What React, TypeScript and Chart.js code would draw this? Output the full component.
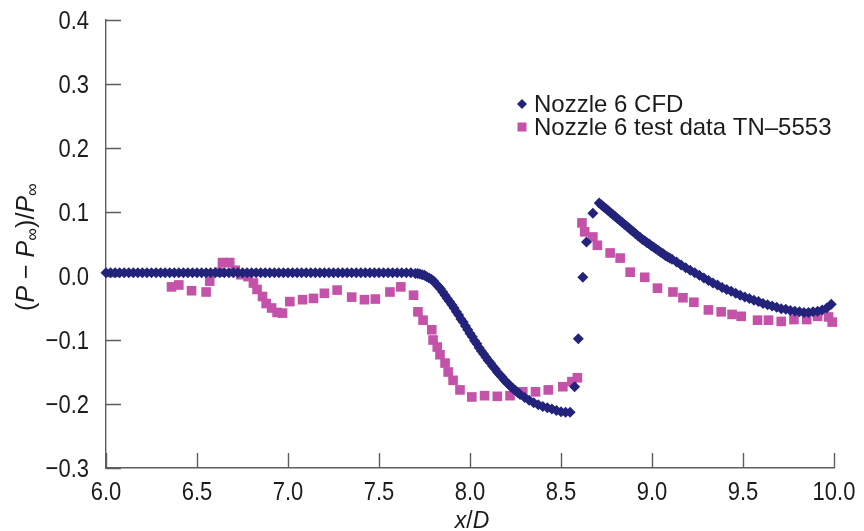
import React, { useEffect, useRef } from "react";
import { Chart, registerables } from "chart.js";

Chart.register(...registerables);

// ---------- data ----------
const seriesNames = ["Nozzle 6 CFD", "Nozzle 6 test data TN\u20135553"];

const xTickValues = [6.0, 6.5, 7.0, 7.5, 8.0, 8.5, 9.0, 9.5, 10.0];
const yTickValues = [-0.3, -0.2, -0.1, 0.0, 0.1, 0.2, 0.3, 0.4];

// CFD, upstream plateau
const cfdPlateauX = [
  6.000, 6.025, 6.050, 6.075, 6.100, 6.125, 6.150, 6.175, 6.200, 6.225, 6.250, 6.275,
  6.300, 6.325, 6.350, 6.375, 6.400, 6.425, 6.450, 6.475, 6.500, 6.525, 6.550, 6.575,
  6.600, 6.625, 6.650, 6.675, 6.700, 6.725, 6.750, 6.775, 6.800, 6.825, 6.850, 6.875,
  6.900, 6.925, 6.950, 6.975, 7.000, 7.025, 7.050, 7.075, 7.100, 7.125, 7.150, 7.175,
  7.200, 7.225, 7.250, 7.275, 7.300, 7.325, 7.350, 7.375, 7.400, 7.425, 7.450, 7.475,
  7.500, 7.525, 7.550, 7.575, 7.600, 7.625, 7.650, 7.675,
];
const cfdPlateauY = [
  0.005, 0.005, 0.005, 0.005, 0.005, 0.005, 0.005, 0.005, 0.005, 0.005, 0.005, 0.005,
  0.005, 0.005, 0.005, 0.005, 0.005, 0.005, 0.005, 0.005, 0.005, 0.005, 0.005, 0.005,
  0.005, 0.005, 0.005, 0.005, 0.005, 0.005, 0.005, 0.005, 0.005, 0.005, 0.005, 0.005,
  0.005, 0.005, 0.005, 0.005, 0.005, 0.005, 0.005, 0.005, 0.005, 0.005, 0.005, 0.005,
  0.005, 0.005, 0.005, 0.005, 0.005, 0.005, 0.005, 0.005, 0.005, 0.005, 0.005, 0.005,
  0.005, 0.005, 0.005, 0.005, 0.005, 0.005, 0.005, 0.005,
];

// CFD, expansion (pressure drop)
const cfdDropX = [
  7.7000, 7.7125, 7.7250, 7.7375, 7.7500, 7.7625, 7.7750, 7.7875, 7.8000, 7.8125, 7.8250,
  7.8375, 7.8500, 7.8625, 7.8750, 7.8875, 7.9000, 7.9125, 7.9250, 7.9375, 7.9500, 7.9625,
  7.9750, 7.9875, 8.0000, 8.0125, 8.0250, 8.0375, 8.0500, 8.0625, 8.0750, 8.0875, 8.1000,
  8.1125, 8.1250, 8.1375, 8.1500, 8.1625, 8.1750, 8.1875, 8.2000, 8.2125, 8.2250, 8.2375,
  8.2500, 8.2625, 8.2750, 8.3000, 8.3250, 8.3500, 8.3750, 8.4000, 8.4250, 8.4500, 8.4750,
  8.5000, 8.5250, 8.5500,
];
const cfdDropY = [
  0.004, 0.004, 0.003, 0.002, 0.001, -0.001, -0.003, -0.005, -0.008, -0.012, -0.016,
  -0.020, -0.025, -0.030, -0.035, -0.040, -0.045, -0.050, -0.056, -0.061, -0.067, -0.072,
  -0.078, -0.084, -0.090, -0.095, -0.101, -0.106, -0.112, -0.117, -0.122, -0.127, -0.132,
  -0.136, -0.141, -0.145, -0.150, -0.154, -0.158, -0.162, -0.166, -0.169, -0.173, -0.176,
  -0.179, -0.182, -0.185, -0.190, -0.194, -0.198, -0.201, -0.204, -0.206, -0.208, -0.210,
  -0.212, -0.213, -0.213,
];

// CFD, shock jump
const cfdShockX = [8.575, 8.595, 8.620, 8.640, 8.675];
const cfdShockY = [-0.173, -0.098, -0.002, 0.053, 0.098];

// CFD, recovery downstream of the shock
const cfdAfterX = [
  8.7100, 8.7225, 8.7350, 8.7475, 8.7600, 8.7725, 8.7850, 8.7975, 8.8100, 8.8225, 8.8350,
  8.8475, 8.8600, 8.8725, 8.8850, 8.8975, 8.9100, 8.9225, 8.9350, 8.9475, 8.9600, 8.9725,
  8.9850, 8.9975, 9.0100, 9.0225, 9.0350, 9.0475, 9.0600, 9.0725, 9.0850, 9.0975, 9.1100,
  9.135, 9.160, 9.185, 9.210, 9.235, 9.260, 9.285, 9.310, 9.335, 9.360, 9.385, 9.410,
  9.435, 9.460, 9.485, 9.510, 9.535, 9.560, 9.585, 9.610, 9.635, 9.660, 9.685, 9.710,
  9.735, 9.760, 9.785, 9.810, 9.835, 9.860, 9.885, 9.910, 9.935, 9.960, 9.985,
];
const cfdAfterY = [
  0.114, 0.111, 0.108, 0.105, 0.102, 0.099, 0.096, 0.093, 0.090, 0.087, 0.084,
  0.081, 0.078, 0.075, 0.072, 0.069, 0.066, 0.063, 0.060, 0.057, 0.055, 0.052,
  0.050, 0.047, 0.045, 0.042, 0.040, 0.037, 0.035, 0.032, 0.030, 0.028, 0.026,
  0.022, 0.017, 0.013, 0.009, 0.005, 0.001, -0.003, -0.007, -0.011, -0.014, -0.018, -0.021,
  -0.024, -0.027, -0.030, -0.033, -0.035, -0.038, -0.040, -0.043, -0.045, -0.047, -0.049, -0.051,
  -0.052, -0.054, -0.055, -0.056, -0.057, -0.057, -0.056, -0.055, -0.053, -0.050, -0.044,
];

const testX = [
  6.36, 6.40, 6.47, 6.55, 6.57, 6.62, 6.64, 6.68, 6.71, 6.74, 6.78, 6.81, 6.83, 6.86, 6.88,
  6.91, 6.94, 6.97, 7.01, 7.08, 7.14, 7.20, 7.27, 7.35, 7.42, 7.48, 7.56, 7.62, 7.69,
  7.714, 7.742, 7.79, 7.797, 7.82, 7.835, 7.863, 7.88, 7.907, 7.945, 8.01, 8.08, 8.15,
  8.22, 8.29, 8.36, 8.43, 8.51, 8.56, 8.59,
  8.615, 8.63, 8.675, 8.70, 8.77, 8.825, 8.88, 8.96, 9.03, 9.115, 9.17, 9.23, 9.31,
  9.38, 9.44, 9.49, 9.58, 9.64, 9.71, 9.78, 9.85, 9.91, 9.97, 9.99,
];

const testY = [
  -0.017, -0.014, -0.023, -0.025, -0.008, 0.006, 0.021, 0.021, 0.009, 0.002, -0.001, -0.011,
  -0.021, -0.032, -0.043, -0.050, -0.057, -0.058, -0.040, -0.037, -0.035, -0.027, -0.022,
  -0.033, -0.037, -0.036, -0.025, -0.017, -0.030,
  -0.056, -0.069, -0.084, -0.100, -0.111, -0.123, -0.136, -0.150, -0.163, -0.178, -0.189,
  -0.187, -0.188, -0.187, -0.181, -0.181, -0.178, -0.173, -0.165, -0.159,
  0.083, 0.069, 0.061, 0.048, 0.036, 0.028, 0.006, -0.002, -0.019, -0.025, -0.034, -0.041,
  -0.053, -0.056, -0.060, -0.063, -0.069, -0.069, -0.071, -0.068, -0.068, -0.063, -0.064,
  -0.072,
];

// ---------- styles ----------
const NAVY = "#23237b";
const PINK = "#c352a8";
const AXIS = "#5e5e5e";
const TEXT = "#1c1c1c";
const FONT = '"Liberation Sans", Arial, Helvetica, sans-serif';
const TICK_LEN = 15;
const TICK_FONT = 22;
const STRETCH = 1.2;

const fmt = (v: number) => {
  const s = Math.abs(v).toFixed(1);
  return v < -1e-9 ? "\u2212" + s : s;
};

const decorPlugin = {
  id: "decor",
  beforeDatasetsDraw(chart: any) {
    const { ctx, chartArea, scales } = chart;
    ctx.save();
    ctx.strokeStyle = AXIS;
    ctx.lineWidth = 1.4;
    ctx.beginPath();
    for (const v of yTickValues) {
      const py = Math.round(scales.y.getPixelForValue(v)) + 0.5;
      ctx.moveTo(chartArea.left, py);
      ctx.lineTo(chartArea.left + TICK_LEN, py);
    }
    for (const v of xTickValues) {
      const px = Math.round(scales.x.getPixelForValue(v)) + 0.5;
      ctx.moveTo(px, chartArea.bottom);
      ctx.lineTo(px, chartArea.bottom - TICK_LEN);
    }
    ctx.stroke();
    ctx.restore();
  },
  afterDraw(chart: any) {
    const { ctx, chartArea, scales } = chart;
    ctx.save();
    ctx.fillStyle = TEXT;

    // tick labels (slightly tall glyphs, as in the reference)
    ctx.save();
    ctx.scale(1, STRETCH);
    ctx.font = `${TICK_FONT}px ${FONT}`;
    ctx.textBaseline = "alphabetic";
    ctx.textAlign = "right";
    const capHalf = (0.716 * TICK_FONT * STRETCH) / 2;
    for (const v of yTickValues) {
      const py = scales.y.getPixelForValue(v);
      ctx.fillText(fmt(v), chartArea.left - 17, (py + capHalf) / STRETCH);
    }
    ctx.textAlign = "center";
    for (const v of xTickValues) {
      const px = scales.x.getPixelForValue(v);
      ctx.fillText(fmt(v), px, (chartArea.bottom + 32) / STRETCH);
    }
    ctx.restore();

    // legend
    const lx = 522;
    const ly1 = 104;
    const ly2 = 127;
    ctx.fillStyle = NAVY;
    ctx.beginPath();
    ctx.moveTo(lx, ly1 - 5);
    ctx.lineTo(lx + 5, ly1);
    ctx.lineTo(lx, ly1 + 5);
    ctx.lineTo(lx - 5, ly1);
    ctx.closePath();
    ctx.fill();
    ctx.fillStyle = PINK;
    ctx.fillRect(lx - 4.5, ly2 - 4.5, 9, 9);
    ctx.fillStyle = TEXT;
    ctx.font = `24px ${FONT}`;
    ctx.textBaseline = "alphabetic";
    ctx.textAlign = "left";
    ctx.fillText(seriesNames[0], 534, 112);
    ctx.fillText(seriesNames[1], 534, 135);

    // y axis title: (P − P∞)/P∞
    const segs = [
      { t: "(", it: false, sub: false },
      { t: "P", it: true, sub: false },
      { t: " \u2212 ", it: false, sub: false },
      { t: "P", it: true, sub: false },
      { t: "\u221E", it: false, sub: true },
      { t: ")/", it: false, sub: false },
      { t: "P", it: true, sub: false },
      { t: "\u221E", it: false, sub: true },
    ];
    const fontFor = (s: any) =>
      `${s.it ? "italic " : ""}${s.sub ? 18 : 25}px ${FONT}`;
    let total = 0;
    const widths = segs.map((s) => {
      ctx.font = fontFor(s);
      const w = ctx.measureText(s.t).width;
      total += w;
      return w;
    });
    ctx.save();
    ctx.translate(34, (chartArea.top + chartArea.bottom) / 2 + 3);
    ctx.rotate(-Math.PI / 2);
    let cx = -total / 2;
    segs.forEach((s, i) => {
      ctx.font = fontFor(s);
      ctx.fillText(s.t, cx, s.sub ? 4 : 0);
      cx += widths[i];
    });
    ctx.restore();

    // x axis title: x/D
    const xs = [
      { t: "x", it: true },
      { t: "/", it: false },
      { t: "D", it: true },
    ];
    let tw = 0;
    const xw = xs.map((s) => {
      ctx.font = `${s.it ? "italic " : ""}23px ${FONT}`;
      const w = ctx.measureText(s.t).width;
      tw += w;
      return w;
    });
    let px = (chartArea.left + chartArea.right) / 2 - tw / 2 + 2;
    xs.forEach((s, i) => {
      ctx.font = `${s.it ? "italic " : ""}23px ${FONT}`;
      ctx.fillText(s.t, px, 528);
      px += xw[i];
    });
    ctx.restore();
  },
};

export default function App() {
  const ref = useRef<HTMLCanvasElement>(null);
  useEffect(() => {
    document.body.style.margin = "0";
    const canvas = ref.current;
    if (!canvas) return;
    const cfdXs = [...cfdPlateauX, ...cfdDropX, ...cfdShockX, ...cfdAfterX];
    const cfdYs = [...cfdPlateauY, ...cfdDropY, ...cfdShockY, ...cfdAfterY];
    const cfd = cfdXs.map((x, i) => ({ x, y: cfdYs[i] }));
    const test = testX.map((x, i) => ({ x, y: testY[i] }));
    const chart = new Chart(canvas, {
      type: "scatter",
      data: {
        datasets: [
          {
            label: seriesNames[0],
            data: cfd,
            pointStyle: "rectRot",
            pointRadius: 5.5,
            pointHoverRadius: 5.5,
            backgroundColor: NAVY,
            borderColor: NAVY,
            borderWidth: 0,
            clip: false,
          } as any,
          {
            label: seriesNames[1],
            data: test,
            pointStyle: "rect",
            pointRadius: 6.8,
            pointHoverRadius: 6.8,
            backgroundColor: PINK,
            borderColor: PINK,
            borderWidth: 0,
            clip: false,
          } as any,
        ],
      },
      options: {
        responsive: false,
        animation: false,
        events: [],
        layout: { padding: { left: 0, right: 30, top: 20, bottom: 0 } },
        plugins: {
          legend: { display: false },
          tooltip: { enabled: false },
          title: { display: false },
        },
        scales: {
          x: {
            type: "linear",
            min: 6,
            max: 10,
            afterFit: (s: any) => {
              s.height = 63;
            },
            afterBuildTicks: (s: any) => {
              s.ticks = xTickValues.map((v) => ({ value: v }));
            },
            grid: { display: false, drawTicks: false },
            border: { display: true, color: AXIS, width: 1.4 },
            ticks: { display: false },
          },
          y: {
            type: "linear",
            min: -0.3,
            max: 0.4,
            afterFit: (s: any) => {
              s.width = 106;
            },
            afterBuildTicks: (s: any) => {
              s.ticks = yTickValues.map((v) => ({ value: v }));
            },
            grid: { display: false, drawTicks: false },
            border: { display: true, color: AXIS, width: 1.4 },
            ticks: { display: false },
          },
        },
      },
      plugins: [decorPlugin],
    });
    return () => chart.destroy();
  }, []);
  return (
    <div style={{ width: 864, height: 531, position: "relative", background: "#fff" }}>
      <canvas ref={ref} width={864} height={531} style={{ width: 864, height: 531, display: "block" }} />
    </div>
  );
}
